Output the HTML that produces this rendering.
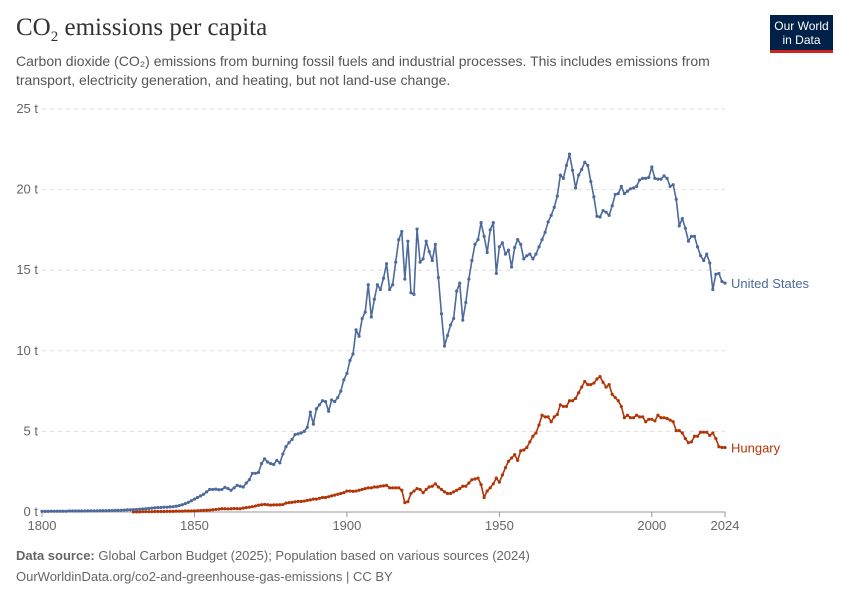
<!DOCTYPE html>
<html><head><meta charset="utf-8"><style>
body{margin:0;background:#fff;font-family:"Liberation Sans",sans-serif;}
#wrap{position:relative;width:850px;height:600px;overflow:hidden;}
</style></head><body>
<div id="wrap">
<div style="position:absolute;left:16px;top:14px;font-family:'Liberation Serif',serif;font-size:25px;color:#333;">CO<sub style="font-size:15px;">2</sub> emissions per capita</div>
<div style="position:absolute;left:16px;top:52px;width:740px;font-size:14px;line-height:19px;color:#555;">Carbon dioxide (CO₂) emissions from burning fossil fuels and industrial processes. This includes emissions from transport, electricity generation, and heating, but not land-use change.</div>
<div style="position:absolute;left:770px;top:15px;width:63px;height:38px;background:#002147;border-bottom:3px solid #ce261e;box-sizing:border-box;color:#fff;font-size:12px;line-height:14px;text-align:center;padding-top:4px;">Our World<br>in Data</div>
<svg id="chart" width="850" height="600" style="position:absolute;left:0;top:0;"></svg>
<div style="position:absolute;left:16px;top:548px;font-size:13px;color:#666;"><b>Data source:</b> Global Carbon Budget (2025); Population based on various sources (2024)</div>
<div style="position:absolute;left:16px;top:569px;font-size:13px;color:#666;">OurWorldinData.org/co2-and-greenhouse-gas-emissions | CC BY</div>
</div>
<script>
const usStart = 1800;
const usVals = [0.04,0.04,0.04,0.05,0.05,0.05,0.05,0.05,0.05,0.06,
0.06,0.06,0.06,0.06,0.06,0.07,0.07,0.07,0.07,0.08,
0.08,0.08,0.09,0.09,0.1,0.1,0.11,0.12,0.13,0.14,
0.15,0.16,0.17,0.19,0.2,0.22,0.24,0.26,0.27,0.28,
0.3,0.3,0.32,0.33,0.36,0.4,0.45,0.52,0.6,0.7,
0.8,0.9,1.0,1.1,1.25,1.4,1.4,1.42,1.38,1.4,
1.53,1.45,1.35,1.5,1.65,1.6,1.55,1.8,2.0,2.4,
2.4,2.45,3.0,3.3,3.1,3.0,2.95,3.2,3.05,3.6,
4.05,4.3,4.5,4.8,4.85,4.9,5.0,5.25,6.2,5.45,
6.4,6.65,6.9,6.85,6.25,6.95,6.85,7.1,7.5,8.2,
8.6,9.4,9.8,11.3,10.9,12.0,12.4,14.1,12.1,13.2,
14.1,13.8,14.5,15.4,13.8,14.1,15.5,16.9,17.4,14.45,
16.8,13.6,13.5,17.55,15.5,15.7,16.8,16.15,15.6,16.6,
14.55,12.3,10.3,10.95,11.6,12.0,13.7,14.2,11.9,13.0,
14.45,15.6,16.6,16.9,17.95,17.1,16.1,17.5,17.95,14.8,
16.45,16.7,16.0,16.25,15.2,16.4,16.9,16.6,15.7,15.9,
16.0,15.7,16.0,16.45,16.9,17.35,18.0,18.4,18.9,19.6,
20.9,20.7,21.5,22.2,21.2,20.1,20.9,21.25,21.7,21.5,
20.5,19.55,18.35,18.3,18.7,18.6,18.4,19.0,19.7,19.75,
20.2,19.75,19.9,20.05,20.1,20.2,20.6,20.7,20.7,20.75,
21.4,20.7,20.65,20.65,20.85,20.7,20.2,20.3,19.4,17.75,
18.2,17.6,16.8,17.1,17.1,16.45,15.9,15.6,16.0,15.45,
13.8,14.75,14.8,14.3,14.2];
const huStart = 1830;
const huVals = [0.01,0.01,0.01,0.02,0.02,0.02,0.02,0.03,0.03,0.03,
0.03,0.04,0.04,0.04,0.05,0.05,0.05,0.06,0.06,0.06,
0.07,0.08,0.09,0.1,0.11,0.12,0.14,0.16,0.18,0.2,
0.2,0.19,0.2,0.22,0.21,0.2,0.24,0.27,0.3,0.33,
0.37,0.42,0.45,0.47,0.45,0.43,0.44,0.44,0.45,0.46,
0.55,0.58,0.6,0.63,0.66,0.65,0.68,0.72,0.75,0.8,
0.8,0.85,0.9,0.9,0.95,1.0,1.05,1.1,1.15,1.2,
1.3,1.3,1.28,1.3,1.35,1.4,1.45,1.5,1.5,1.55,
1.55,1.6,1.62,1.65,1.5,1.5,1.5,1.5,1.35,0.58,
0.64,1.15,1.3,1.45,1.4,1.2,1.4,1.55,1.6,1.75,
1.55,1.4,1.25,1.15,1.15,1.25,1.35,1.45,1.6,1.6,
1.8,2.0,2.05,2.1,1.7,0.9,1.3,1.5,1.75,2.1,
1.85,2.3,2.75,3.15,3.35,3.55,3.2,3.8,3.85,4.0,
4.35,4.7,4.9,5.4,6.0,5.9,5.9,5.6,5.9,6.05,
6.65,6.55,6.55,6.9,6.9,7.05,7.4,7.75,8.1,7.9,
7.9,8.0,8.25,8.4,8.05,7.75,7.9,7.3,7.1,6.9,
6.55,5.85,6.0,5.85,5.85,6.0,5.9,5.9,5.6,5.75,
5.75,5.65,6.0,5.85,5.85,5.8,5.7,5.6,5.05,5.05,
4.9,4.55,4.3,4.35,4.7,4.7,4.95,4.95,4.95,4.75,
4.9,4.55,4.05,4.0,4.0];
const yTicks = [0,5,10,15,20,25];
const yTickLabels = ["0 t","5 t","10 t","15 t","20 t","25 t"];
const xTicks = [1800,1850,1900,1950,2000,2024];
const seriesNames = ["United States","Hungary"];

const NS="http://www.w3.org/2000/svg";
const svg=document.getElementById('chart');
const X0=42,X1=725,Y0=512,Y1=109;
const xs=y=>X0+(y-1800)/(2024-1800)*(X1-X0);
const ys=v=>Y0-v/25*(Y0-Y1);
function mk(t,a){const e=document.createElementNS(NS,t);for(const k in a)e.setAttribute(k,a[k]);svg.appendChild(e);return e;}
yTicks.forEach((t,i)=>{
  if(t>0){const g=mk('line',{x1:X0,x2:X1,y1:ys(t),y2:ys(t),stroke:'#ddd','stroke-dasharray':'4,4'});
  
  }
  const l=mk('text',{x:38,y:ys(t)+4,'text-anchor':'end','font-size':13,fill:'#666','font-family':'Liberation Sans, sans-serif'});
  l.textContent=yTickLabels[i];
  
  
});
const ax=mk('line',{x1:X0,x2:X1,y1:Y0,y2:Y0,stroke:'#999'});


xTicks.forEach(t=>{
  const tk=mk('line',{x1:xs(t),x2:xs(t),y1:Y0,y2:Y0+5,stroke:'#999'});
  
  
  const l=mk('text',{x:xs(t),y:Y0+18,'text-anchor':'middle','font-size':13,fill:'#666','font-family':'Liberation Sans, sans-serif'});
  l.textContent=t;
  
  
});
function series(vals,start,color,name,label){
  const pts=vals.map((v,i)=>[xs(start+i),ys(v)]);
  const p=mk('polyline',{points:pts.map(q=>q.join(',')).join(' '),fill:'none',stroke:color,'stroke-width':1.6,'stroke-linejoin':'round'});
  
  
  pts.forEach(q=>{const c=mk('circle',{cx:q[0],cy:q[1],r:1.6,fill:color});
    
    });
  const last=pts[pts.length-1];
  const t=mk('text',{x:731,y:last[1]+5,'font-size':13,fill:color,'font-family':'Liberation Sans, sans-serif'});
  t.textContent=label;
  
  
}
series(huVals,huStart,'#b13507','hungary',seriesNames[1]);
series(usVals,usStart,'#4c6a9c','united-states',seriesNames[0]);
</script>
</body></html>
